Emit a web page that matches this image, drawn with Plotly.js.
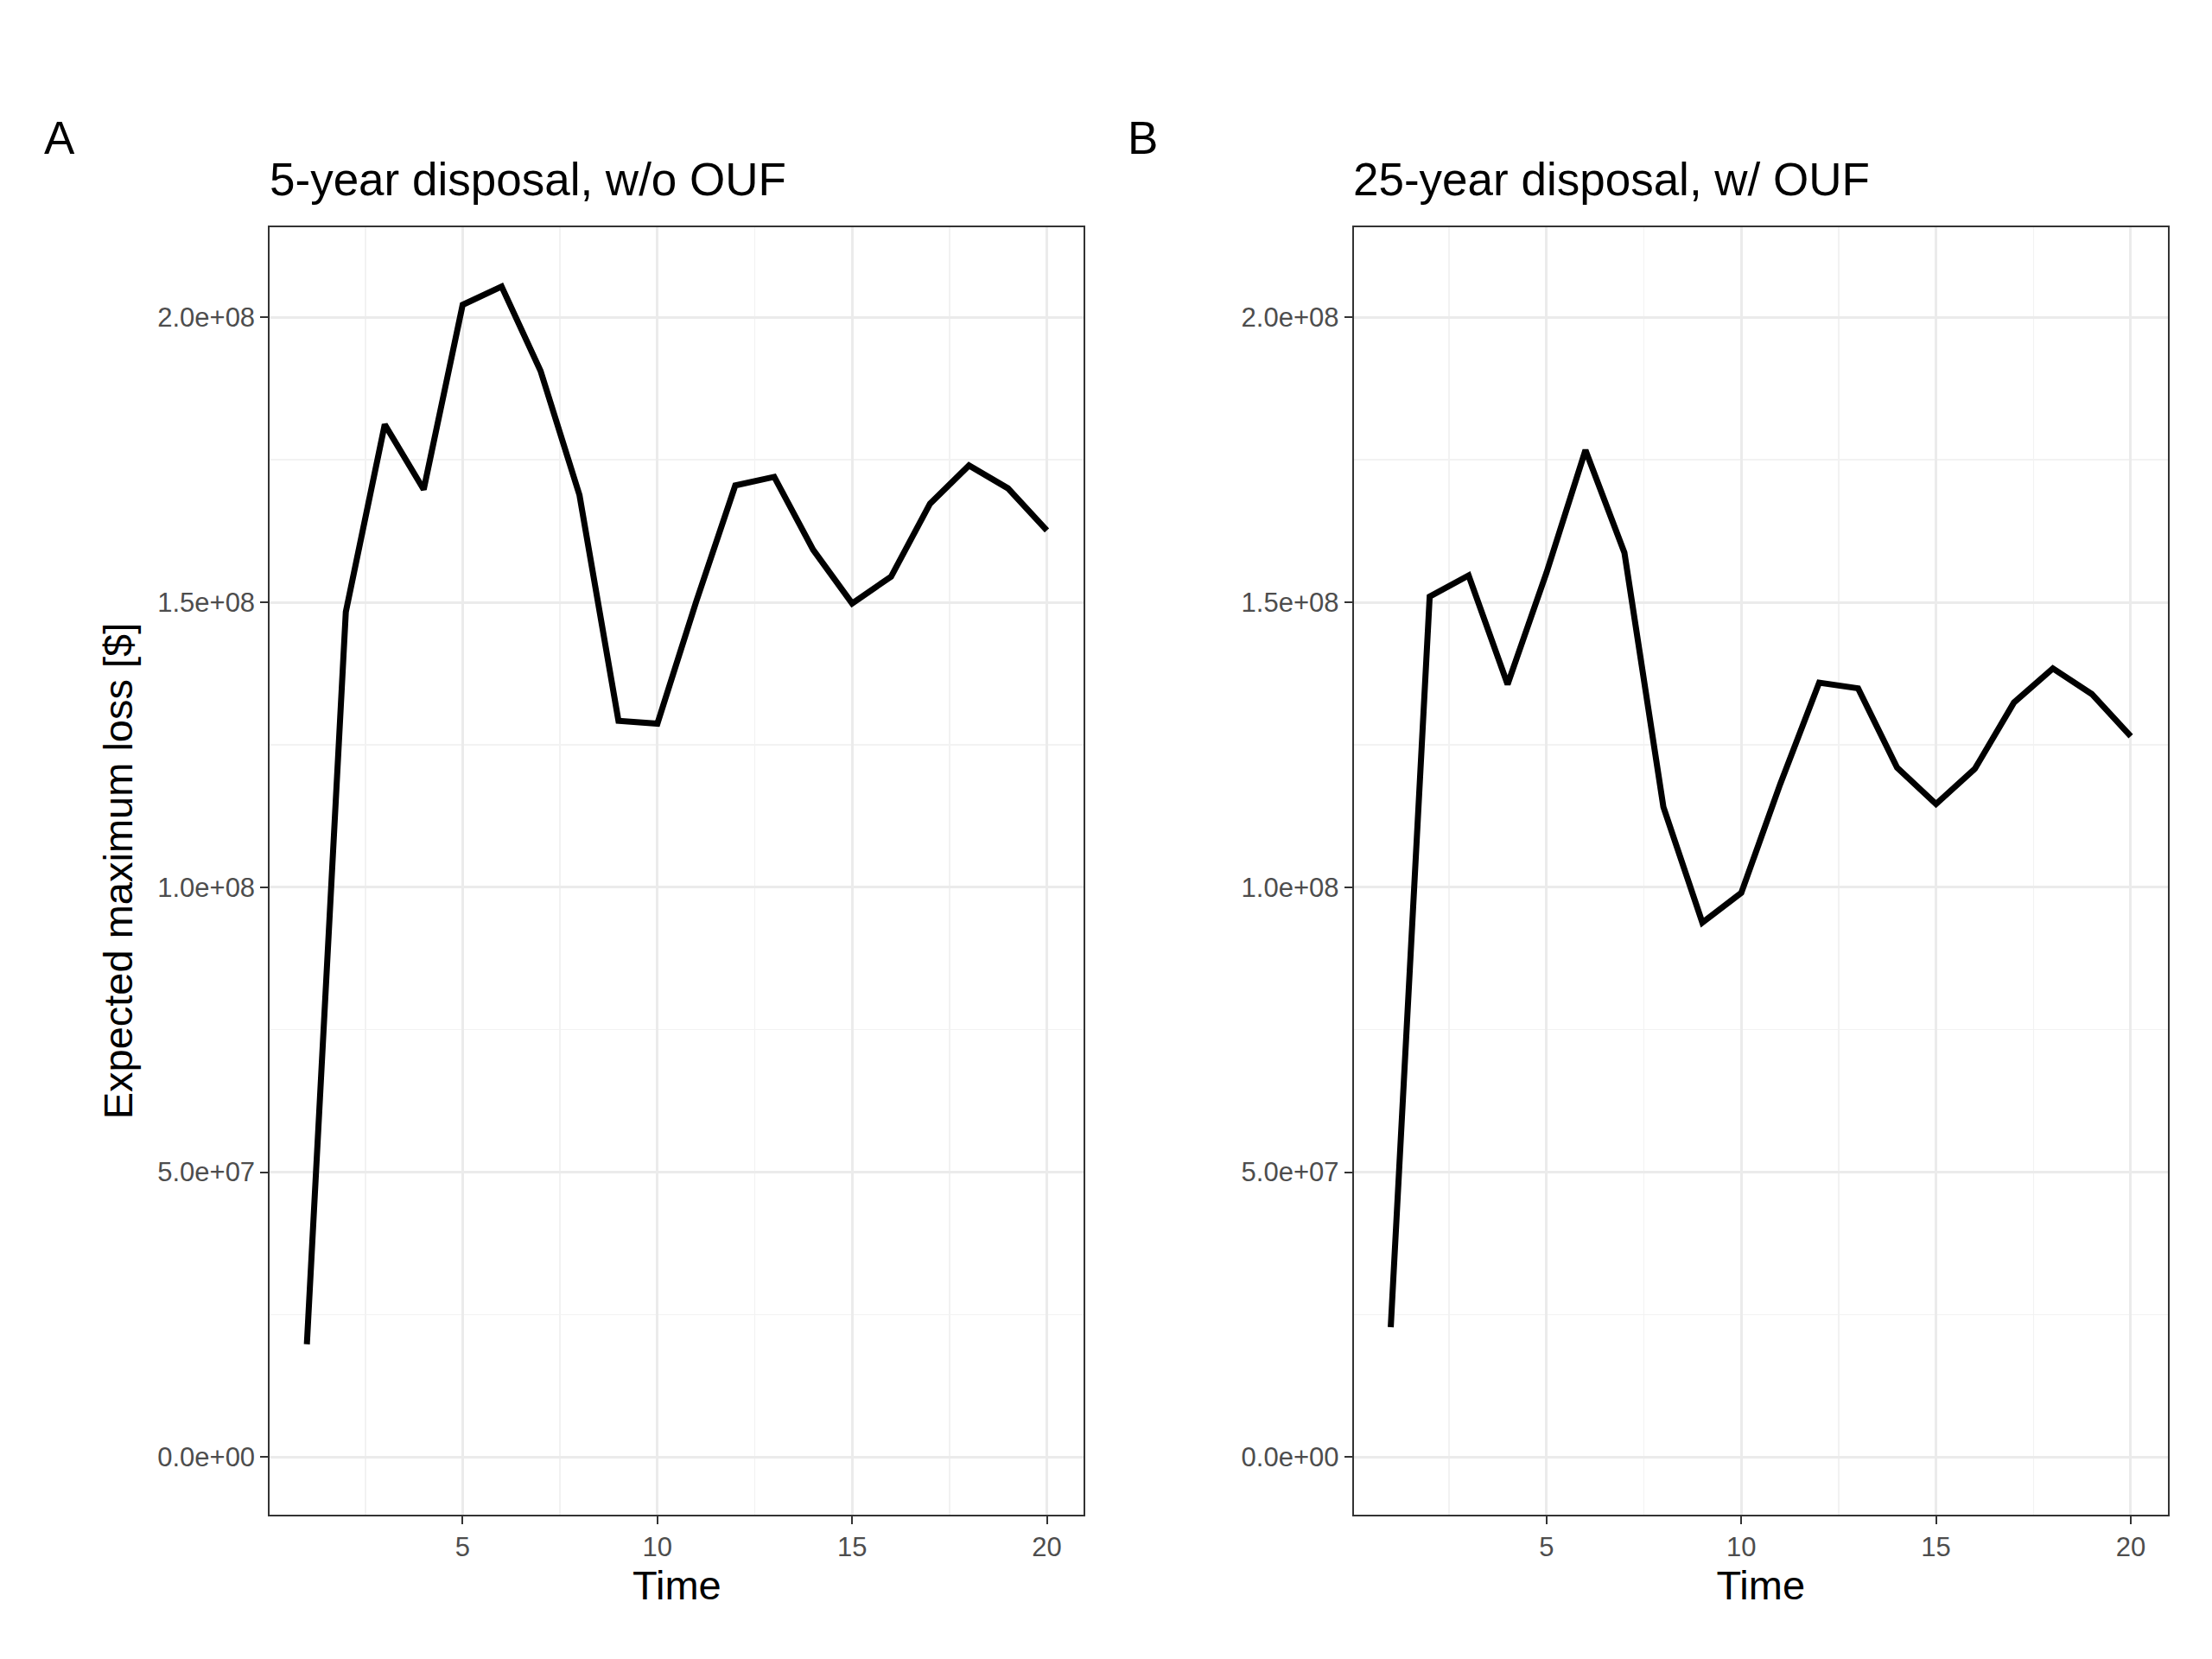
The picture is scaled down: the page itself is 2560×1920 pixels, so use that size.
<!DOCTYPE html>
<html><head><meta charset="utf-8">
<script src="https://cdn.plot.ly/plotly-3.0.1.min.js"></script>
<style>body{margin:0;background:#fff}</style></head>
<body><div id="c" style="width:2560px;height:1920px"></div>
<script>
const time = [1,2,3,4,5,6,7,8,9,10,11,12,13,14,15,16,17,18,19,20];
const lossA = [1.98e7,1.483e8,1.812e8,1.698e8,2.022e8,2.054e8,1.906e8,1.688e8,1.292e8,1.287e8,1.502e8,1.705e8,1.720e8,1.592e8,1.498e8,1.545e8,1.673e8,1.740e8,1.700e8,1.626e8];
const lossB = [2.28e7,1.510e8,1.547e8,1.356e8,1.552e8,1.767e8,1.587e8,1.141e8,0.938e8,0.990e8,1.181e8,1.359e8,1.349e8,1.210e8,1.146e8,1.208e8,1.324e8,1.384e8,1.339e8,1.265e8];
const yTickVals = [0,5e7,1e8,1.5e8,2e8];
const yTickText = ["0.0e+00","5.0e+07","1.0e+08","1.5e+08","2.0e+08"];
const xTickVals = [5,10,15,20];
const panelTitles = ["5-year disposal, w/o OUF","25-year disposal, w/ OUF"];
const tags = ["A","B"];

const font = "Liberation Sans, Arial, sans-serif";
function xa(dom){return {domain:dom,range:[0.05,20.95],tickvals:xTickVals,ticks:"outside",ticklen:9,tickcolor:"#333",tickwidth:2,
  tickfont:{size:31,color:"#4d4d4d"},showgrid:true,gridcolor:"#ebebeb",gridwidth:3,zeroline:false,
  showline:true,mirror:true,linecolor:"#333",linewidth:2,
  minor:{tickvals:[2.5,7.5,12.5,17.5],showgrid:true,gridcolor:"#f2f2f2",gridwidth:1.5},
  title:{text:"Time",font:{size:47,color:"#000"},standoff:8}};}
function ya(dom,showTitle){return {domain:dom,range:[-1.01e7,2.158e8],tickvals:yTickVals,ticktext:yTickText,ticks:"outside",ticklen:9,tickcolor:"#333",tickwidth:2,
  tickfont:{size:31,color:"#4d4d4d"},showgrid:true,gridcolor:"#ebebeb",gridwidth:3,zeroline:false,
  showline:true,mirror:true,linecolor:"#333",linewidth:2,
  minor:{tickvals:[2.5e7,7.5e7,1.25e8,1.75e8],showgrid:true,gridcolor:"#f2f2f2",gridwidth:1.5},
  title:showTitle?{text:"Expected maximum loss [$]",font:{size:47,color:"#000"},standoff:14}:{text:""}};}
const line={color:"#000",width:7};
const data=[
 {x:time,y:lossA,type:"scatter",mode:"lines",line:line,xaxis:"x",yaxis:"y"},
 {x:time,y:lossB,type:"scatter",mode:"lines",line:line,xaxis:"x2",yaxis:"y2"}];
const dy=[0.087,0.863];
const layout={width:2560,height:1920,margin:{l:0,r:0,t:0,b:0},showlegend:false,
 paper_bgcolor:"#fff",plot_bgcolor:"#fff",font:{family:font},
 xaxis:xa([0.122,0.490]),yaxis:ya(dy,true),
 xaxis2:Object.assign(xa([0.612,0.980]),{anchor:"y2"}),yaxis2:Object.assign(ya(dy,false),{anchor:"x2"}),
 annotations:[
  {text:panelTitles[0],x:0.121,y:0.892,xref:"paper",yref:"paper",xanchor:"left",yanchor:"middle",showarrow:false,font:{size:53,color:"#000"}},
  {text:panelTitles[1],x:0.611,y:0.892,xref:"paper",yref:"paper",xanchor:"left",yanchor:"middle",showarrow:false,font:{size:53,color:"#000"}},
  {text:tags[0],x:0.019,y:0.917,xref:"paper",yref:"paper",xanchor:"left",yanchor:"middle",showarrow:false,font:{size:53,color:"#000"}},
  {text:tags[1],x:0.509,y:0.917,xref:"paper",yref:"paper",xanchor:"left",yanchor:"middle",showarrow:false,font:{size:53,color:"#000"}}]};
layout.xaxis.anchor="y";
Plotly.newPlot("c",data,layout,{staticPlot:true});
</script></body></html>
